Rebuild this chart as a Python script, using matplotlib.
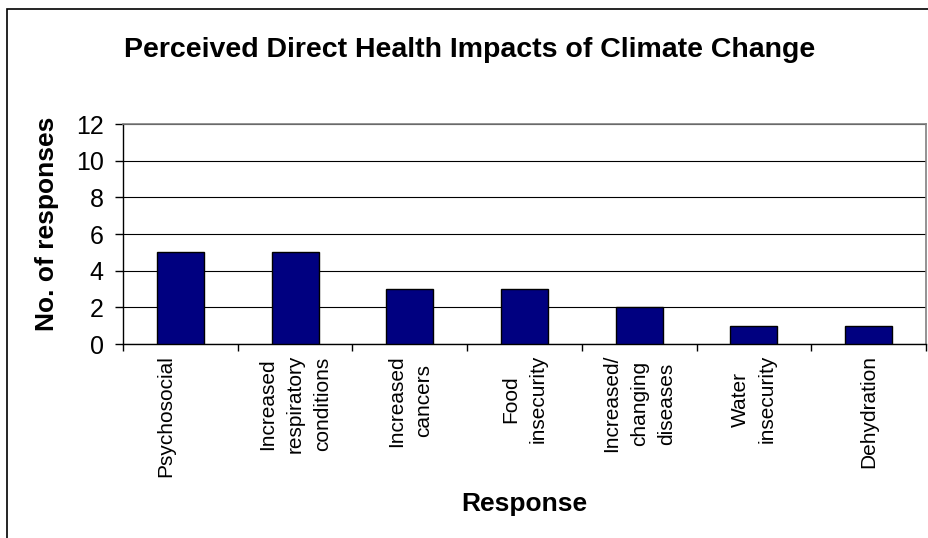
import matplotlib
matplotlib.use("Agg")
import matplotlib.pyplot as plt
from matplotlib.patches import Rectangle
from matplotlib.transforms import ScaledTranslation
import numpy as np

categories = ["Psychosocial", "Increased\nrespiratory\nconditions", "Increased\ncancers",
              "Food\ninsecurity", "Increased/\nchanging\ndiseases", "Water\ninsecurity", "Dehydration"]
values = [5, 5, 3, 3, 2, 1, 1]
yticks = [0, 2, 4, 6, 8, 10, 12]

plt.rcParams['font.family'] = ['Liberation Sans', 'DejaVu Sans']

W, H = 929, 538
fig = plt.figure(figsize=(W / 100, H / 100), dpi=100)
fig.patch.set_facecolor('white')

# outer chart border (left and top visible)
fig.patches.append(Rectangle((7.5 / W, -0.1), 1.2, 1 - 9.5 / H + 0.1, transform=fig.transFigure,
                             fill=False, edgecolor='black', linewidth=1.2))

ax = fig.add_axes([123 / W, 1 - 344 / H, (926 - 123) / W, (344 - 124) / H])
x = np.arange(len(categories))
ax.bar(x, values, width=0.41, color='#000080', edgecolor='black', linewidth=1.0, zorder=3)

ax.set_xlim(-0.5, len(categories) - 0.5)
ax.set_ylim(0, 12)
ax.set_yticks(yticks)
ax.set_yticklabels([str(v) for v in yticks], fontsize=18)
ax.tick_params(axis='y', direction='out', length=6, width=1, pad=8)

ax.set_xticks(x)
ax.set_xticklabels(categories, rotation=90, fontsize=15, ha='center', va='top',
                   multialignment='center', linespacing=1.55)
ax.tick_params(axis='x', which='major', length=0, pad=8.0)
ax.set_xticks(np.arange(-0.5, len(categories) + 0.5, 1), minor=True)
ax.tick_params(axis='x', which='minor', direction='out', length=5, width=1)

# first label sits a little left of its bar in the original
lbl = ax.get_xticklabels()[0]
lbl.set_transform(lbl.get_transform() + ScaledTranslation(-15 / 100, 0, fig.dpi_scale_trans))

ax.grid(axis='y', color='black', linewidth=0.8, zorder=0)
ax.set_axisbelow(True)
for s in ['top', 'right']:
    ax.spines[s].set_color('#808080')
    ax.spines[s].set_linewidth(1.2)
for s in ['left', 'bottom']:
    ax.spines[s].set_color('black')
    ax.spines[s].set_linewidth(1.0)

fig.text(470 / W, 1 - 50 / H, "Perceived Direct Health Impacts of Climate Change",
         ha='center', va='center', fontsize=20.5, fontweight='bold')
fig.text(47 / W, 1 - 224 / H, "No. of responses", rotation=90, ha='center', va='center',
         fontsize=19, fontweight='bold')
fig.text(524 / W, 1 - 504 / H, "Response", ha='center', va='center',
         fontsize=19, fontweight='bold')

fig.savefig("out.png", dpi=100, facecolor='white')
